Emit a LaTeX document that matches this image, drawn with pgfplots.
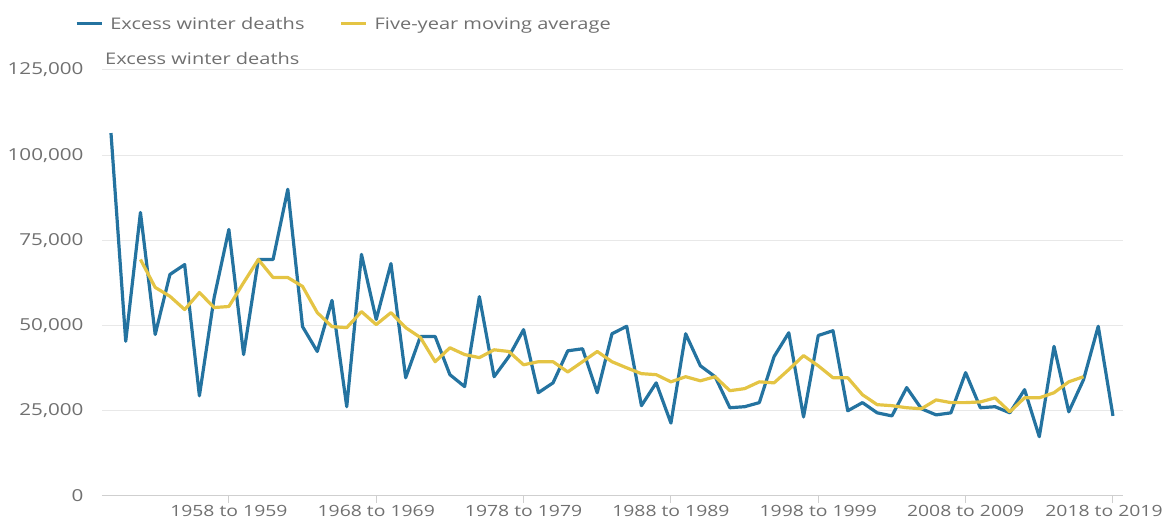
\documentclass[border=0pt]{standalone}
\usepackage{fontspec}
\setmainfont{Open Sans}[FakeStretch=1.25]
\usepackage{pgfplots}
\pgfplotsset{compat=1.18}
\definecolor{onsblue}{HTML}{2473A0}
\definecolor{onsyellow}{HTML}{E4C444}
\definecolor{txtgray}{HTML}{707070}
\definecolor{gridgray}{HTML}{E8E8E8}
\definecolor{axisgray}{HTML}{CFCFCF}
\begin{document}
\begin{tikzpicture}
\path[use as bounding box] (0,0) rectangle (1163pt,524pt);
\begin{axis}[
  at={(102pt,28pt)}, anchor=south west,
  scale only axis, width=1021pt, height=426pt,
  xmin=1949.39, xmax=2018.68,
  ymin=0, ymax=125000,
  axis line style={draw=none},
  axis x line*=bottom,
  axis y line*=left,
  ytick={0,25000,50000,75000,100000,125000},
  ymajorgrids, grid style={gridgray, line width=1pt},
  xtick={1958,1968,1978,1988,1998,2008},
  xticklabels={1958 to 1959,1968 to 1969,1978 to 1979,1988 to 1989,1998 to 1999,2008 to 2009},
  extra x ticks={2018},
  extra x tick labels={2018 to 2019},
  extra x tick style={xticklabel style={xshift=-9pt}, grid=none},
  tick align=outside,
  major tick length=7pt,
  x tick style={axisgray, line width=1pt},
  y tick style={draw=none},
  scaled y ticks=false,
  /pgf/number format/fixed,
  /pgf/number format/1000 sep={,},
  /pgf/number format/assume math mode=true,
  xticklabel style={font=\fontsize{15.5}{18}\selectfont, text=txtgray, yshift=-1pt, inner ysep=1pt},
  yticklabel style={font=\fontsize{16.5}{18}\selectfont, text=txtgray, xshift=-8pt},
  clip=false,
  legend columns=2,
  legend style={at={(axis description cs:-0.0264,1.108)}, anchor=west, draw=none, fill=none,
    inner sep=0pt, font=\fontsize{16}{18}\selectfont, text=txtgray,
    /tikz/every even column/.append style={column sep=33pt}},
  legend image code/.code={\draw[#1, line width=3pt] (0pt,0pt) -- (25pt,0pt); \path (30pt,0pt);},
]
\draw[axisgray, line width=1pt] (rel axis cs:0,0) -- (rel axis cs:1,0);
\addplot[onsblue, line width=3.2pt, line join=round] coordinates {
(1950,106500) (1951,45400) (1952,83200) (1953,47400) (1954,65000)
(1955,67900) (1956,29400) (1957,58200) (1958,78200) (1959,41500)
(1960,69400) (1961,69400) (1962,90000) (1963,49700) (1964,42400)
(1965,57400) (1966,26200) (1967,70900) (1968,51800) (1969,68200)
(1970,34700) (1971,46800) (1972,46800) (1973,35600) (1974,32100)
(1975,58500) (1976,35000) (1977,40900) (1978,48800) (1979,30300)
(1980,33200) (1981,42600) (1982,43200) (1983,30300) (1984,47600)
(1985,49800) (1986,26500) (1987,33200) (1988,21400) (1989,47600)
(1990,38200) (1991,35000) (1992,25900) (1993,26200) (1994,27400)
(1995,40900) (1996,47900) (1997,23200) (1998,47100) (1999,48500)
(2000,25000) (2001,27400) (2002,24400) (2003,23500) (2004,31800)
(2005,25600) (2006,23800) (2007,24400) (2008,36200) (2009,25900)
(2010,26200) (2011,24400) (2012,31200) (2013,17400) (2014,43900)
(2015,24700) (2016,34100) (2017,49800) (2018,23500)
};
\addlegendentry{Excess winter deaths}
\addplot[onsyellow, line width=3.2pt, line join=round] coordinates {
(1952,69400) (1953,61200) (1954,58600) (1955,54700) (1956,59700)
(1957,55300) (1958,55600) (1959,62600) (1960,69400) (1961,64100)
(1962,64100) (1963,61500) (1964,53800) (1965,49700) (1966,49400)
(1967,54100) (1968,50300) (1969,53800) (1970,49400) (1971,46500)
(1972,39400) (1973,43500) (1974,41500) (1975,40600) (1976,42900)
(1977,42400) (1978,38500) (1979,39400) (1980,39400) (1981,36400)
(1982,39400) (1983,42400) (1984,39400) (1985,37600) (1986,35900)
(1987,35600) (1988,33500) (1989,35000) (1990,33800) (1991,35000)
(1992,30900) (1993,31500) (1994,33500) (1995,33200) (1996,37100)
(1997,41200) (1998,38200) (1999,34700) (2000,34700) (2001,29700)
(2002,26800) (2003,26500) (2004,25900) (2005,25600) (2006,28200)
(2007,27400) (2008,27400) (2009,27600) (2010,28800) (2011,24700)
(2012,28800) (2013,28800) (2014,30300) (2015,33500) (2016,35000)
};
\addlegendentry{Five-year moving average}
\node[anchor=base west, inner sep=0pt, text=txtgray, font=\fontsize{16}{18}\selectfont]
  at ([xshift=3pt, yshift=5pt]rel axis cs:0,1) {Excess winter deaths};
\end{axis}
\end{tikzpicture}
\end{document}
